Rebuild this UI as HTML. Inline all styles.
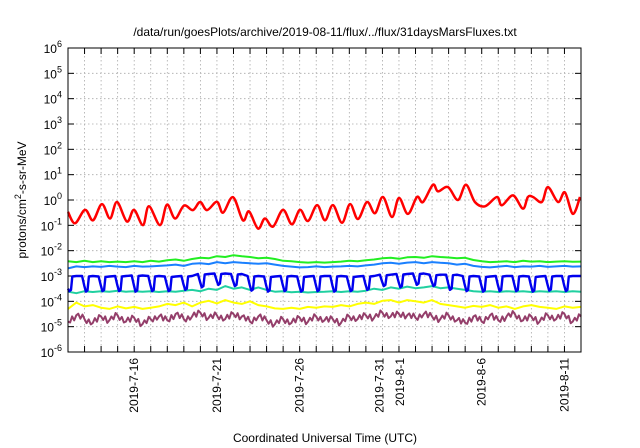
<!DOCTYPE html>
<html><head><meta charset="utf-8"><style>
html,body{margin:0;padding:0;background:#fff;width:640px;height:448px;overflow:hidden}
svg text{font-family:"Liberation Sans",sans-serif;fill:#000}
</style></head><body>
<svg id="chart" width="640" height="448" viewBox="0 0 640 448" xmlns="http://www.w3.org/2000/svg">
<text x="325" y="36" font-size="12" text-anchor="middle">/data/run/goesPlots/archive/2019-08-11/flux/../flux/31daysMarsFluxes.txt</text>
<g id="grid"></g>
<g id="yaxis"></g>
<g id="xaxis"></g>
<g id="series"></g>
<rect x="68" y="48" width="513" height="304" fill="none" stroke="#000" stroke-width="1"/>
<text transform="translate(26,200) rotate(-90)" font-size="12" text-anchor="middle">protons/cm<tspan dy="-5" font-size="9">2</tspan><tspan dy="5">-s-sr-MeV</tspan></text>
<text x="325" y="442" font-size="12" text-anchor="middle">Coordinated Universal Time (UTC)</text>
</svg>
<script>
const yExps=[6,5,4,3,2,1,0,-1,-2,-3,-4,-5,-6];
const dayLabels=["2019-7-16","2019-7-21","2019-7-26","2019-7-31","2019-8-1","2019-8-6","2019-8-11"];
const dayLabelOffsets=[4,9,14,19,20,25,30];
const redTimes=[0,0.42,1.03,1.51,2.05,2.54,2.96,3.56,3.99,4.53,4.89,5.56,5.98,6.47,7.01,7.55,7.98,8.4,9.0,9.37,9.97,10.57,10.94,11.48,11.9,12.39,12.99,13.53,14.02,14.5,15.05,15.53,16.01,16.56,17.04,17.52,18.07,18.55,19.03,19.58,20.0,20.54,21.09,21.45,22.05,22.36,22.96,23.56,24.05,24.59,25.2,25.92,26.22,26.89,27.49,27.79,28.1,28.64,29.0,29.61,30.03,30.51,30.94];
const redLog=[-0.47,-0.92,-0.39,-0.8,-0.16,-0.73,-0.08,-0.85,-0.39,-0.99,-0.25,-0.99,-0.18,-0.73,-0.22,-0.4,-0.08,-0.4,-0.07,-0.5,0.11,-0.8,-0.45,-1.13,-0.73,-1.05,-0.39,-0.96,-0.39,-0.83,-0.2,-0.8,-0.2,-0.9,-0.16,-0.75,-0.08,-0.52,0.12,-0.67,0.08,-0.55,0.12,-0.08,0.6,0.34,0.51,0,0.6,-0.08,-0.25,0.12,-0.21,0.18,-0.34,0.12,0.12,-0.08,0.51,-0.08,0.3,-0.55,0.12];
const greenLog=[-2.42,-2.45,-2.4,-2.45,-2.42,-2.45,-2.43,-2.45,-2.42,-2.45,-2.4,-2.43,-2.38,-2.35,-2.4,-2.33,-2.28,-2.3,-2.22,-2.25,-2.18,-2.22,-2.25,-2.3,-2.28,-2.33,-2.4,-2.42,-2.45,-2.47,-2.45,-2.47,-2.45,-2.43,-2.4,-2.42,-2.38,-2.35,-2.3,-2.28,-2.32,-2.26,-2.25,-2.28,-2.22,-2.25,-2.27,-2.3,-2.28,-2.37,-2.42,-2.45,-2.44,-2.42,-2.45,-2.4,-2.43,-2.42,-2.45,-2.43,-2.42,-2.44,-2.43];
const lightBlueLog=[-2.7,-2.62,-2.65,-2.62,-2.64,-2.6,-2.63,-2.65,-2.6,-2.63,-2.62,-2.6,-2.58,-2.55,-2.6,-2.52,-2.5,-2.53,-2.45,-2.5,-2.45,-2.48,-2.5,-2.52,-2.5,-2.55,-2.6,-2.63,-2.66,-2.65,-2.62,-2.65,-2.63,-2.62,-2.6,-2.62,-2.58,-2.55,-2.5,-2.48,-2.52,-2.47,-2.45,-2.5,-2.45,-2.48,-2.5,-2.55,-2.52,-2.6,-2.64,-2.66,-2.63,-2.6,-2.65,-2.62,-2.63,-2.6,-2.64,-2.62,-2.6,-2.63,-2.62];
const tealLog=[-3.62,-3.68,-3.6,-3.63,-3.6,-3.62,-3.58,-3.62,-3.6,-3.62,-3.6,-3.63,-3.6,-3.62,-3.58,-3.55,-3.6,-3.5,-3.55,-3.4,-3.5,-3.45,-3.55,-3.45,-3.55,-3.62,-3.6,-3.64,-3.62,-3.65,-3.63,-3.62,-3.6,-3.63,-3.6,-3.62,-3.58,-3.5,-3.55,-3.45,-3.5,-3.42,-3.48,-3.45,-3.4,-3.48,-3.45,-3.5,-3.55,-3.6,-3.62,-3.6,-3.63,-3.6,-3.62,-3.6,-3.63,-3.6,-3.62,-3.6,-3.63,-3.6,-3.62];
const yellowLog=[-4.3,-4.05,-4.2,-4.15,-4.25,-4.3,-4.2,-4.28,-4.22,-4.3,-4.25,-4.2,-4.1,-4.15,-4.05,-4.2,-4.05,-3.98,-4.08,-3.95,-4.05,-4.1,-4.0,-4.15,-4.2,-4.28,-4.3,-4.25,-4.3,-4.22,-4.25,-4.2,-4.22,-4.15,-4.2,-4.1,-4.05,-4.1,-3.98,-3.95,-4.05,-3.95,-4.0,-4.05,-3.95,-4.1,-4.15,-4.2,-4.25,-4.18,-4.22,-4.15,-4.25,-4.2,-4.3,-4.2,-4.15,-4.22,-4.25,-4.3,-4.2,-4.25,-4.22];
const purpleLog=[-4.8,-4.55,-4.7,-4.85,-4.6,-4.75,-4.55,-4.8,-4.65,-4.9,-4.7,-4.6,-4.75,-4.5,-4.7,-4.6,-4.45,-4.65,-4.55,-4.7,-4.5,-4.6,-4.8,-4.6,-4.75,-4.9,-4.7,-4.85,-4.65,-4.8,-4.6,-4.75,-4.7,-4.85,-4.6,-4.7,-4.55,-4.65,-4.45,-4.6,-4.5,-4.55,-4.65,-4.5,-4.6,-4.7,-4.55,-4.75,-4.85,-4.6,-4.8,-4.55,-4.75,-4.6,-4.5,-4.75,-4.6,-4.8,-4.55,-4.7,-4.5,-4.8,-4.6];
const purpleJitter=[0.12,-0.1,0.08,-0.14,0.1,-0.06,0.14,-0.12,0.06,-0.1,0.12,-0.08];
const darkBlueTop=[-3.0,-3.0,-3.02,-3.0,-2.98,-3.0,-3.02,-3.0,-2.92,-2.9,-2.92,-3.0,-3.02,-3.0,-3.02,-3.0,-3.0,-3.02,-3.0,-2.95,-2.92,-2.9,-2.95,-2.95,-3.0,-3.02,-3.0,-3.0,-3.02,-3.0,-3.0];
const darkBlueDip=[-3.6,-3.62,-3.6,-3.6,-3.62,-3.6,-3.6,-3.55,-3.45,-3.35,-3.4,-3.58,-3.62,-3.6,-3.62,-3.6,-3.62,-3.6,-3.55,-3.4,-3.45,-3.35,-3.4,-3.55,-3.6,-3.62,-3.6,-3.6,-3.62,-3.58,-3.6];

const NS="http://www.w3.org/2000/svg";
const L=68,R=581,T=48,B=352,NDAYS=31;
const xS=t=>L+(R-L)*t/NDAYS;
const yS=v=>T+(B-T)*(6-v)/12;
function mk(tag,attrs,parent){const e=document.createElementNS(NS,tag);for(const k in attrs)e.setAttribute(k,attrs[k]);parent.appendChild(e);return e;}
const grid=document.getElementById('grid'),ya=document.getElementById('yaxis'),xa=document.getElementById('xaxis'),sg=document.getElementById('series');
yExps.forEach(e=>{
  const y=yS(e);
  if(e<6&&e>-6){const g=mk('line',{x1:L,x2:R,y1:y,y2:y,stroke:'#aaa','stroke-width':0.8,'stroke-dasharray':'1.5,2.5'},grid);
  
  }
  const t1=mk('line',{x1:L,x2:L+6,y1:y,y2:y,stroke:'#000'},ya);
  
  
  const t2=mk('line',{x1:R-6,x2:R,y1:y,y2:y,stroke:'#000'},ya);
  
  
  const tx=mk('text',{x:62,y:y+5,'font-size':12,'text-anchor':'end'},ya);
  
  
  tx.innerHTML='10<tspan dy="-6" font-size="9">'+e+'</tspan>';
});
for(let d=1;d<NDAYS;d++){
  const x=xS(d);
  const g=mk('line',{x1:x,x2:x,y1:T,y2:B,stroke:'#aaa','stroke-width':0.8,'stroke-dasharray':'1.5,2.5'},grid);
  
  
  const t1=mk('line',{x1:x,x2:x,y1:B-6,y2:B,stroke:'#000'},xa);
  
  
  const t2=mk('line',{x1:x,x2:x,y1:T,y2:T+6,stroke:'#000'},xa);
  
  
}
dayLabels.forEach((lab,i)=>{
  const x=xS(dayLabelOffsets[i])+(lab==="2019-7-31"?-3:(lab==="2019-8-1"?1:0));
  const tx=mk('text',{transform:`translate(${x+4},${358}) rotate(-90)`,'font-size':12,'text-anchor':'end'},xa);
  
  
  tx.textContent=lab;
});
function smoothPath(pts){
  let d=`M${pts[0][0]},${pts[0][1]}`;
  for(let i=0;i<pts.length-1;i++){
    const p0=pts[Math.max(0,i-1)],p1=pts[i],p2=pts[i+1],p3=pts[Math.min(pts.length-1,i+2)];
    const c1=[p1[0]+(p2[0]-p0[0])/6,p1[1]+(p2[1]-p0[1])/6],c2=[p2[0]-(p3[0]-p1[0])/6,p2[1]-(p3[1]-p1[1])/6];
    d+=`C${c1[0].toFixed(1)},${c1[1].toFixed(1)} ${c2[0].toFixed(1)},${c2[1].toFixed(1)} ${p2[0].toFixed(1)},${p2[1].toFixed(1)}`;
  }
  return d;
}
function linePath(pts){return 'M'+pts.map(p=>p[0].toFixed(1)+','+p[1].toFixed(1)).join('L');}
function halfDay(arr){return arr.map((v,i)=>[xS(Math.min(i*0.5,NDAYS)),yS(v)]);}
function draw(d,color,w,name){
  const p=mk('path',{d:d,fill:'none',stroke:color,'stroke-width':w,'stroke-linejoin':'round'},sg);
  
  
}
const pp=[];
purpleLog.forEach((v,i)=>{
  if(i>=purpleLog.length-1){pp.push([xS(Math.min(i*0.5,NDAYS)),yS(v)]);return;}
  const nv=purpleLog[i+1];
  for(let s=0;s<4;s++){
    const f=s/4;
    const j=s===0?0:purpleJitter[(i*3+s)%purpleJitter.length];
    pp.push([xS(i*0.5+f*0.5),yS(v+(nv-v)*f+j)]);
  }
});
draw(linePath(pp),'#943e6a',2,'series-purple');
draw(linePath(halfDay(yellowLog)),'#ffff00',2,'series-yellow');
draw(linePath(halfDay(tealLog)),'#20d0a0',2,'series-teal');
const db=[];
darkBlueTop.forEach((top,k)=>{
  const dip=darkBlueDip[k];
  if(k>0){db.push([xS(k-0.15),yS(top)]);db.push([xS(k-0.02),yS(top+(dip-top)*0.6)]);}
  else db.push([xS(0),yS(dip+0.1)]);
  db.push([xS(k+0.08),yS(dip)]);
  db.push([xS(k+0.18),yS(dip+0.05)]);
  db.push([xS(k+0.26),yS(top-0.02)]);
  db.push([xS(k+0.5),yS(top)]);
  if(k===NDAYS-1)db.push([xS(NDAYS),yS(top)]);
});
draw(linePath(db),'#0000ee',2.4,'series-dark-blue');
draw(linePath(halfDay(lightBlueLog)),'#1a80ff',2,'series-light-blue');
draw(linePath(halfDay(greenLog)),'#22ee22',2,'series-green');
draw(smoothPath(redTimes.map((t,i)=>[xS(t),yS(redLog[i])])),'#ff0000',2.5,'series-red');
</script>
</body></html>
